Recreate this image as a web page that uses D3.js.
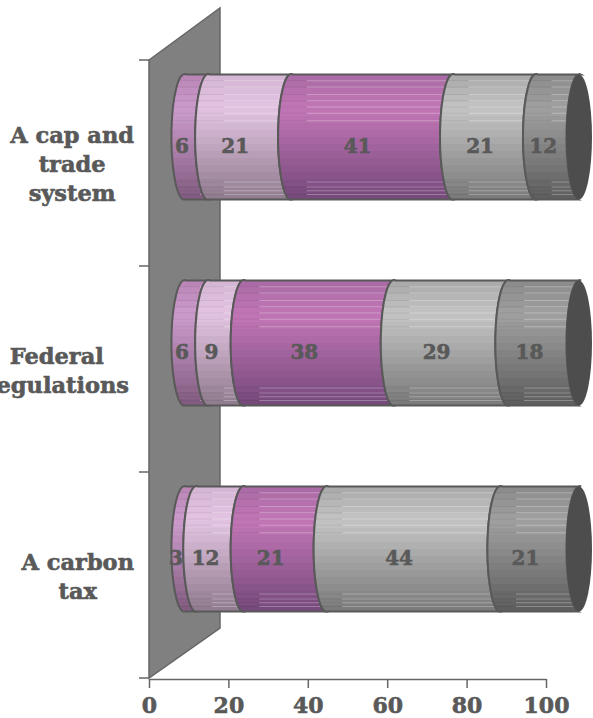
<!DOCTYPE html>
<html>
<head>
<meta charset="utf-8">
<script src="https://cdn.jsdelivr.net/npm/d3@7"></script>
<style>
  html, body { margin: 0; padding: 0; background: #fff; overflow: hidden; }
  svg { display: block; }
  text { font-family: "DejaVu Serif", serif; font-weight: bold; fill: #595959; stroke: #595959; stroke-width: 0.6px; }
</style>
</head>
<body>
<svg width="593" height="718"></svg>
<script>
const categories = [
  ["A cap and", "trade", "system"],
  ["Federal", "regulations"],
  ["A carbon", "tax"],
];
const seriesValues = [
  [6, 21, 41, 21, 12],
  [6, 9, 38, 29, 18],
  [3, 12, 21, 44, 21],
];
const xTicks = [0, 20, 40, 60, 80, 100];

// top, light, bottom colour per series
const seriesColors = [
  ["#b884b4", "#cc9ccc", "#805a7e"],
  ["#d4b4d2", "#e2c4e2", "#8e7a8c"],
  ["#a86aa4", "#c276b6", "#74487a"],
  ["#a8a8a8", "#c4c4c4", "#787878"],
  ["#8a8a8a", "#a0a0a0", "#5c5c5c"],
];
const streaks = [0.05, 0.1, 0.16, 0.21, 0.26, 0.31, 0.37, 0.86, 0.9, 0.93, 0.96];

const svg = d3.select("svg");
const defs = svg.append("defs");

const axisX = d3.scaleLinear().domain([0, 100]).range([149, 546]);
const barX = d3.scaleLinear().domain([0, 100]).range([170, 565]).clamp(true);
const bandY = d3.scaleBand().domain(d3.range(categories.length)).range([60, 678]);

const barTop = 14.5;
const barH = 125;
const rx = 13;
const tilt = 3;

// stepped vertical gradients, that is where the banding comes from
seriesColors.forEach((c, i) => {
  const grad = defs.append("linearGradient")
    .attr("id", `seg${i}`)
    .attr("x1", 0).attr("x2", 0).attr("y1", 0).attr("y2", 1);
  const col = d3.scaleLinear().domain([0, 0.28, 1]).range(c);
  const steps = 18;
  d3.range(steps).forEach((s) => {
    grad.append("stop").attr("offset", s / steps).attr("stop-color", col((s + 0.5) / steps));
    grad.append("stop").attr("offset", (s + 1) / steps).attr("stop-color", col((s + 0.5) / steps));
  });
});

// wall
svg.append("path")
  .attr("d", "M" + axisX(0) + ",60L220,8L220,628L" + axisX(0) + ",678Z")
  .attr("fill", "#808080")
  .attr("stroke", "#666")
  .attr("stroke-width", 1.5);

// left ticks
svg.selectAll(".ytick")
  .data([60].concat(categories.map((d, i) => bandY(i) + bandY.step())))
  .enter()
  .append("line")
  .attr("x1", 139).attr("x2", axisX(0))
  .attr("y1", (d) => d).attr("y2", (d) => d)
  .attr("stroke", "#666").attr("stroke-width", 1.5);

// edge of a segment, running from bottom up to the top
function arcUp(x, top, bottom) {
  return `A${rx},${barH / 2} 0 0 1 ${x + rx + tilt},${top}`;
}
function arcDown(x, top, bottom) {
  return `A${rx},${barH / 2} 0 0 0 ${x + rx},${bottom}`;
}

categories.forEach((cat, ci) => {
  const top = bandY(ci) + barTop;
  const bottom = top + barH;
  const g = svg.append("g");
  let sum = 0;
  const segs = seriesValues[ci].map((v, si) => {
    const s = { v, si, x0: barX(sum), x1: barX(sum + v) };
    sum += v;
    return s;
  });

  segs.forEach((s, k) => {
    const d =
      `M${s.x0 + rx + tilt},${top}` +
      arcDown(s.x0, top, bottom) +
      `L${s.x1 + rx},${bottom}` +
      arcUp(s.x1, top, bottom) +
      "Z";
    const clipId = `clip${ci}-${k}`;
    defs.append("clipPath").attr("id", clipId).append("path").attr("d", d);

    g.append("path").attr("d", d).attr("fill", `url(#seg${s.si})`);

    const st = g.append("g").attr("clip-path", `url(#${clipId})`);
    streaks.forEach((f) => {
      const y = top + f * barH;
      st.append("line")
        .attr("x1", s.x0).attr("x2", s.x0 + 30)
        .attr("y1", y).attr("y2", y)
        .attr("stroke", "#000").attr("stroke-opacity", 0.06);
      st.append("line")
        .attr("x1", s.x0 + 30).attr("x2", s.x1 + rx * 2)
        .attr("y1", y).attr("y2", y)
        .attr("stroke", "#fff").attr("stroke-opacity", 0.28);
    });

    g.append("path").attr("d", d)
      .attr("fill", "none")
      .attr("stroke", "#595959")
      .attr("stroke-width", 2);
  });

  // end cap
  g.append("ellipse")
    .attr("cx", barX(100) + rx + 1).attr("cy", (top + bottom) / 2)
    .attr("rx", rx).attr("ry", barH / 2)
    .attr("fill", "#4d4d4d");

  // value labels
  g.selectAll("text")
    .data(segs)
    .enter()
    .append("text")
    .attr("x", (d) => (d.x0 + d.x1) / 2)
    .attr("y", (top + bottom) / 2 + 16)
    .attr("text-anchor", "middle")
    .attr("font-size", 20)
    .text((d) => d.v);

  // category label, lines centred inside a block that ends at the plot edge
  const lh = 29;
  const cy = (top + bottom) / 2 + 28;
  const right = ci === 1 ? 129 : 134;
  const lab = svg.append("g");
  const lines = lab.selectAll("text")
    .data(cat)
    .enter()
    .append("text")
    .attr("y", (d, i) => cy + (i - (cat.length - 1) / 2) * lh + 7)
    .attr("text-anchor", "middle")
    .attr("font-size", 22.5)
    .text((d) => d);
  const maxW = d3.max(lines.nodes(), (n) => n.getComputedTextLength());
  lines.attr("x", right - maxW / 2);
});

// x axis
const xAxis = d3.axisBottom(axisX).tickValues(xTicks).tickSize(9).tickSizeOuter(0);
const ax = svg.append("g").attr("transform", "translate(0,679)").call(xAxis);
ax.select(".domain").attr("stroke", "#666").attr("stroke-width", 1.5);
ax.selectAll(".tick line").attr("stroke", "#666").attr("stroke-width", 1.5);
ax.selectAll(".tick text")
  .attr("font-size", 22)
  .attr("font-family", null)
  .attr("fill", null)
  .attr("dy", null)
  .attr("y", 34);
ax.attr("font-family", null).attr("font-size", null);
</script>
</body>
</html>
